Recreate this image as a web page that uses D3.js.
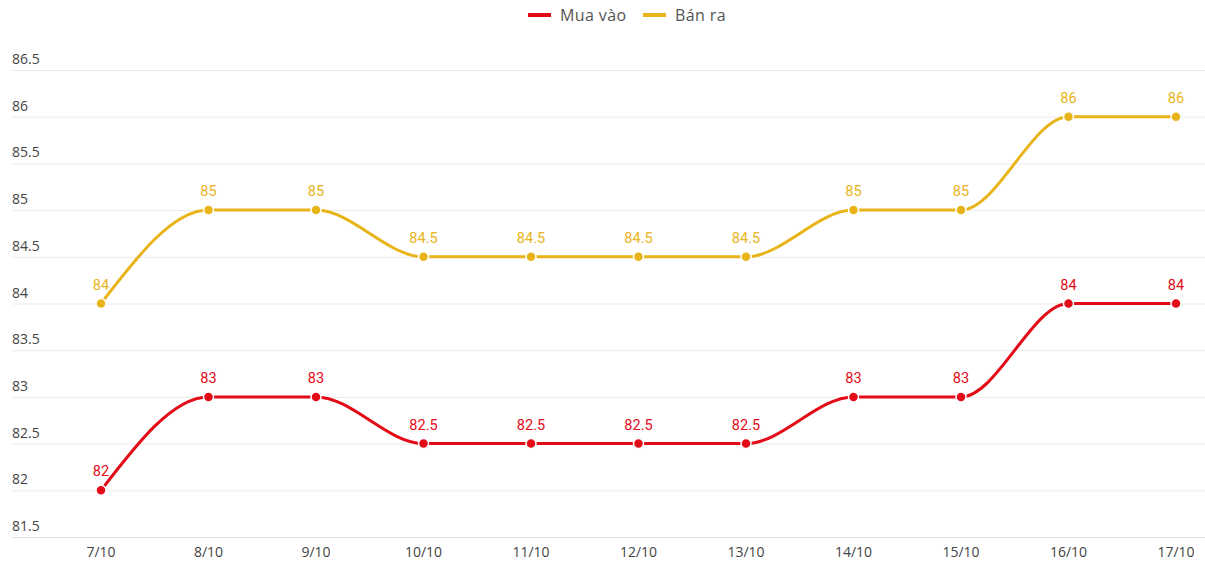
<!DOCTYPE html>
<html><head><meta charset="utf-8">
<script src="https://cdn.jsdelivr.net/npm/d3@7"></script>
<style>body{margin:0;background:#fff}svg{display:block}</style>
</head><body><svg id="c" width="1205" height="585"></svg>
<script>
const categories = ["7/10","8/10","9/10","10/10","11/10","12/10","13/10","14/10","15/10","16/10","17/10"];
const muaVao = [82,83,83,82.5,82.5,82.5,82.5,83,83,84,84];
const banRa = [84,85,85,84.5,84.5,84.5,84.5,85,85,86,86];
const yTicks = [81.5,82,82.5,83,83.5,84,84.5,85,85.5,86,86.5];
const seriesNames = ["Mua vào","Bán ra"];
const colors = ["#e30b17","#e8b41a"];

const svg = d3.select("#c");
const x = d3.scalePoint().domain(categories).range([101,1176]);
const y = d3.scaleLinear().domain([81.5,86.5]).range([537,70]);

// gridlines
svg.append("g").selectAll("line").data(yTicks).join("line")
  .attr("x1",12).attr("x2",1205)
  .attr("y1",d=>y(d)+0.5).attr("y2",d=>y(d)+0.5)
  .attr("stroke",d=>d===81.5?"#e0e0e0":"#ebebeb").attr("stroke-width",1);
// y labels
svg.append("g").selectAll("text").data(yTicks).join("text")
  .attr("x",12).attr("y",d=>y(d)-6)
  .attr("font-family","'Open Sans', sans-serif").attr("font-size",14).attr("fill","#444")
  .text(d=>d);
// x labels
svg.append("g").selectAll("text").data(categories).join("text")
  .attr("x",d=>x(d)).attr("y",557).attr("text-anchor","middle")
  .attr("font-family","'Open Sans', sans-serif").attr("font-size",14).attr("fill","#444")
  .text(d=>d);

const line = d3.line().x((d,i)=>x(categories[i])).y(d=>y(d)).curve(d3.curveMonotoneX);
[muaVao,banRa].forEach((vals,si)=>{
  const g = svg.append("g");
  g.append("path").attr("d",line(vals)).attr("fill","none")
    .attr("stroke",colors[si]).attr("stroke-width",3);
  g.selectAll("circle").data(vals).join("circle")
    .attr("cx",(d,i)=>x(categories[i])).attr("cy",d=>y(d)).attr("r",5)
    .attr("fill",colors[si]).attr("stroke","#fff").attr("stroke-width",1.5);
  g.selectAll("text").data(vals).join("text")
    .attr("x",(d,i)=>x(categories[i])).attr("y",d=>y(d)-14).attr("text-anchor","middle")
    .attr("font-family","'Roboto', sans-serif").attr("font-size",14.5).attr("fill",colors[si])
    .text(d=>d);
});

// legend
const leg = svg.append("g");
const legItems = [{x:528,tx:560},{x:643,tx:675}];
seriesNames.forEach((n,i)=>{
  leg.append("line").attr("x1",legItems[i].x).attr("x2",legItems[i].x+23)
    .attr("y1",15).attr("y2",15).attr("stroke",colors[i]).attr("stroke-width",4);
  leg.append("text").attr("x",legItems[i].tx).attr("y",21)
    .attr("font-family","'Open Sans', sans-serif").attr("font-size",16).attr("letter-spacing",0.4).attr("fill","#555").text(n);
});
</script></body></html>
